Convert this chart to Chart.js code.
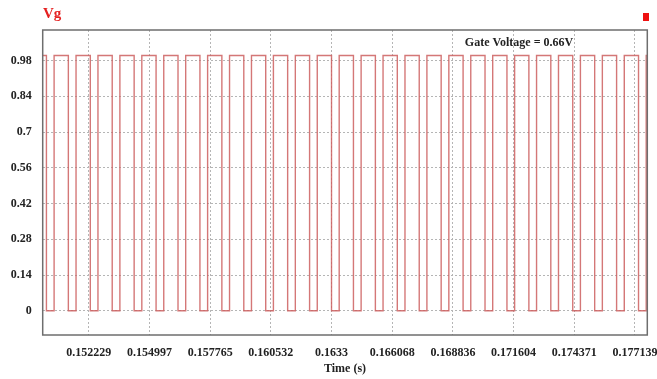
<!DOCTYPE html>
<html>
<head>
<meta charset="utf-8">
<script src="https://cdn.jsdelivr.net/npm/chart.js@4/dist/chart.umd.min.js"></script>
<style>
html,body{margin:0;padding:0;background:#fff;}
#wrap{width:657px;height:379px;position:relative;}
</style>
</head>
<body>
<div id="wrap"><canvas id="c" width="657" height="379"></canvas></div>
<script>
// Data
const fallTimes = [0.1503,0.1513,0.1523,0.1533,0.1543,0.1553,0.1563,0.1573,0.1583,0.1593,0.1603,0.1613,0.1623,0.1633,0.1643,0.1653,0.1663,0.1673,0.1683,0.1693,0.1703,0.1713,0.1723,0.1733,0.1743,0.1753,0.1763,0.1773];
const riseTimes = [0.15065,0.15165,0.15265,0.15365,0.15465,0.15565,0.15665,0.15765,0.15865,0.15965,0.16065,0.16165,0.16265,0.16365,0.16465,0.16565,0.16665,0.16765,0.16865,0.16965,0.17065,0.17165,0.17265,0.17365,0.17465,0.17565,0.17665,0.17765];
const highLevel = 1.0;
const lowLevel = 0;
const timeStart = 0.15013;
const timeEnd = 0.1777;
const xTickLabels = ['0.152229','0.154997','0.157765','0.160532','0.1633','0.166068','0.168836','0.171604','0.174371','0.177139'];
const yTickLabels = ['0','0.14','0.28','0.42','0.56','0.7','0.84','0.98'];
const seriesName = 'Vg';
const annotationText = 'Gate Voltage = 0.66V';
const xTitle = 'Time (s)';

const xTickValues = xTickLabels.map(Number);
const yTickValues = yTickLabels.map(Number);

const points = [{x: timeStart, y: highLevel}];
for (let i = 0; i < fallTimes.length; i++) {
  points.push({x: fallTimes[i], y: highLevel});
  points.push({x: fallTimes[i], y: lowLevel});
  points.push({x: riseTimes[i], y: lowLevel});
  points.push({x: riseTimes[i], y: highLevel});
}
points.push({x: timeEnd, y: highLevel});

const serif = "'Liberation Serif','Times New Roman',serif";

const extras = {
  id: 'extras',
  afterDraw(chart) {
    const ctx = chart.ctx;
    const a = chart.chartArea;
    ctx.save();
    ctx.strokeStyle = '#6e6e6e';
    ctx.lineWidth = 1.5;
    ctx.strokeRect(a.left, a.top, a.right - a.left, a.bottom - a.top);
    ctx.fillStyle = '#e52020';
    ctx.font = 'bold 15px ' + serif;
    ctx.textAlign = 'left';
    ctx.textBaseline = 'middle';
    ctx.fillText(seriesName, 43, 14);
    ctx.fillStyle = '#ee1111';
    ctx.fillRect(643, 13, 6, 8);
    ctx.fillStyle = '#222';
    ctx.font = 'bold 12px ' + serif;
    ctx.textAlign = 'center';
    ctx.fillText(annotationText, 519, 43);
    ctx.fillText(xTitle, (a.left + a.right) / 2, 369);
    ctx.restore();
  }
};

new Chart(document.getElementById('c'), {
  type: 'line',
  data: {
    datasets: [{
      label: seriesName,
      data: points,
      borderColor: 'rgba(205,95,95,0.85)',
      borderWidth: 1.4,
      pointRadius: 0,
      tension: 0,
      fill: false
    }]
  },
  options: {
    responsive: false,
    animation: false,
    events: [],
    layout: {padding: {left: 0, top: 30, right: 9.7, bottom: 0}},
    plugins: {legend: {display: false}, tooltip: {enabled: false}, title: {display: false}},
    scales: {
      x: {
        type: 'linear',
        min: timeStart,
        max: timeEnd,
        afterBuildTicks(scale) { scale.ticks = xTickValues.map(v => ({value: v})); },
        afterFit(scale) { scale.height = 44; scale.paddingLeft = 0; scale.paddingRight = 0; },
        ticks: {
          autoSkip: false,
          maxRotation: 0,
          padding: 11,
          color: '#222',
          font: {family: serif, size: 12, weight: 'bold'},
          callback: (v, i) => xTickLabels[i]
        },
        grid: {color: '#b5b5b5', lineWidth: 1, drawTicks: false},
        border: {display: false, dash: [2, 2]}
      },
      y: {
        min: -0.095,
        max: 1.1,
        afterBuildTicks(scale) { scale.ticks = yTickValues.map(v => ({value: v})); },
        afterFit(scale) { scale.width = 42.7; scale.paddingTop = 0; scale.paddingBottom = 0; },
        ticks: {
          autoSkip: false,
          padding: 11,
          color: '#222',
          font: {family: serif, size: 12, weight: 'bold'},
          callback: (v, i) => yTickLabels[i]
        },
        grid: {color: '#b5b5b5', lineWidth: 1, drawTicks: false},
        border: {display: false, dash: [2, 2]}
      }
    }
  },
  plugins: [extras]
});
</script>
</body>
</html>
